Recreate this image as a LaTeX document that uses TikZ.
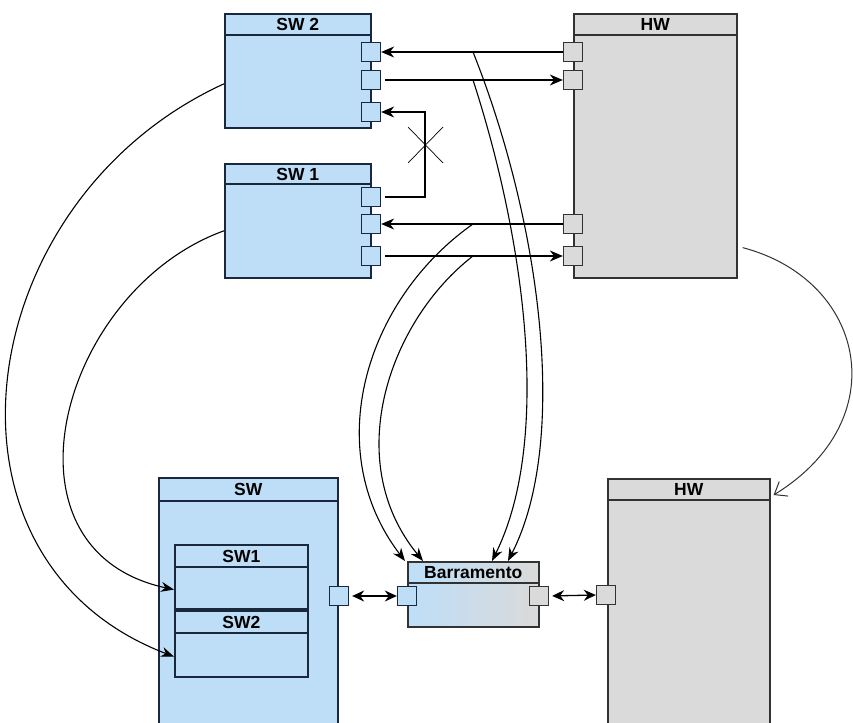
\documentclass[tikz,border=0pt]{standalone}
\usepackage{fontspec}
\setmainfont{Liberation Sans}
\usetikzlibrary{arrows.meta,calc}
\definecolor{lblue}{RGB}{190,222,248}
\definecolor{lgray}{RGB}{218,218,218}
\definecolor{bbdr}{RGB}{25,40,60}
\definecolor{gbdr}{RGB}{50,50,50}
\tikzset{
  cls/.style={draw, rectangle, inner sep=0pt, anchor=north west, line width=1.6pt},
  bluecls/.style={cls, draw=bbdr, fill=lblue},
  graycls/.style={cls, draw=gbdr, fill=lgray},
  hdrb/.style={draw=bbdr, line width=1.6pt},
  hdrg/.style={draw=gbdr, line width=1.6pt},
  ttl/.style={font=\bfseries\fontsize{17.5}{17.5}\selectfont, inner sep=0pt, text=black},
  bport/.style={draw=bbdr, fill=lblue, rectangle, minimum size=19pt, inner sep=0pt, line width=1.3pt},
  gport/.style={draw=gbdr, fill=lgray, rectangle, minimum size=19pt, inner sep=0pt, line width=1.3pt},
  arr/.style={line width=1.3pt, -{Stealth[length=13pt,width=11pt]}},
  darr/.style={line width=1.3pt, {Stealth[length=12pt,width=11pt]}-{Stealth[length=12pt,width=11pt]}},
  curv/.style={line width=1.1pt, -{Stealth[length=13pt,width=10pt]}},
  openarr/.style={line width=1pt, draw=gbdr, -{Straight Barb[length=11pt,width=17pt]}},
  xmark/.style={line width=0.7pt}
}
\begin{document}
\begin{tikzpicture}[x=1pt,y=-1pt]
\clip (0,0) rectangle (853,722);
\useasboundingbox (0,0) rectangle (853,722);
\fill[white] (0,0) rectangle (853,722);

% ---- top classes ----
\node[bluecls, minimum width=146pt, minimum height=114pt] (sw2) at (224,13) {};
\draw[hdrb] ($(sw2.north west)+(0,22)$) -- ($(sw2.north east)+(0,22)$);
\node[ttl] (sw2t) at ($(sw2.north)+(0,11.5)$) {SW 2};

\node[bluecls, minimum width=146pt, minimum height=114pt] (sw1) at (224,163) {};
\draw[hdrb] ($(sw1.north west)+(0,21)$) -- ($(sw1.north east)+(0,21)$);
\node[ttl] (sw1t) at ($(sw1.north)+(0,11)$) {SW 1};

\node[graycls, minimum width=163pt, minimum height=264pt] (hw) at (573,13) {};
\draw[hdrg] ($(hw.north west)+(0,22)$) -- ($(hw.north east)+(0,22)$);
\node[ttl] (hwt) at ($(hw.north)+(0,11.5)$) {HW};

% ---- bottom classes ----
\node[bluecls, minimum width=179pt, minimum height=260pt] (sw) at (158,477) {};
\draw[hdrb] ($(sw.north west)+(0,24)$) -- ($(sw.north east)+(0,24)$);
\node[ttl] (swt) at ($(sw.north)+(0,12.5)$) {SW};

\node[bluecls, minimum width=133pt, minimum height=64pt] (in1) at (174,544) {};
\draw[hdrb] ($(in1.north west)+(0,23)$) -- ($(in1.north east)+(0,23)$);
\node[ttl] (in1t) at ($(in1.north)+(0,12)$) {SW1};

\node[bluecls, minimum width=133pt, minimum height=66pt] (in2) at (174,610) {};
\draw[hdrb] ($(in2.north west)+(0,23)$) -- ($(in2.north east)+(0,23)$);
\node[ttl] (in2t) at ($(in2.north)+(0,12)$) {SW2};

\node[graycls, minimum width=162pt, minimum height=260pt] (hwb) at (607,478) {};
\draw[hdrg] ($(hwb.north west)+(0,22)$) -- ($(hwb.north east)+(0,22)$);
\node[ttl] (hwbt) at ($(hwb.north)+(0,11.5)$) {HW};

\node[cls, draw=gbdr, left color=lblue, right color=lgray, minimum width=131pt, minimum height=65pt] (barr) at (407,561) {};
\draw[hdrg] ($(barr.north west)+(0,22)$) -- ($(barr.north east)+(0,22)$);
\node[ttl] (barrt) at ($(barr.north)+(0,11.5)$) {Barramento};

% ---- ports ----
\node[bport] (s2a) at (371,52) {};
\node[bport] (s2b) at (371,80) {};
\node[bport] (s2c) at (371,112) {};
\node[bport] (s1a) at (371,197) {};
\node[bport] (s1b) at (371,224) {};
\node[bport] (s1c) at (371,256) {};
\node[gport] (h1) at (573,52) {};
\node[gport] (h2) at (573,80) {};
\node[gport] (h3) at (573,224) {};
\node[gport] (h4) at (573,256) {};
\node[bport] (swp) at (339,596) {};
\node[bport] (bl) at (407,596) {};
\node[gport] (br) at (539,596) {};
\node[gport] (hp) at (606,595) {};

% ---- straight connectors ----
\draw[arr] (h1.west) -- (s2a.east);
\draw[arr, shorten <=4pt] (s2b.east) -- (h2.west);
\coordinate (elb) at (425,112);
\draw[arr, shorten <=4pt] (s1a.east) -| (elb) -- (s2c.east);
\draw[xmark] (408,127) -- (443,163);
\draw[xmark] (443,127) -- (408,163);
\draw[arr] (h3.west) -- (s1b.east);
\draw[arr, shorten <=4pt] (s1c.east) -- (h4.west);

\draw[darr, shorten <=3pt] (swp.east) -- (bl.west);
\draw[darr, shorten <=3pt] (br.east) -- (hp.west);

% ---- junctions on connectors ----
\coordinate (ja) at (473,52);
\coordinate (jb) at (473,80);
\coordinate (jd) at (473,224);
\coordinate (je) at (473,256);
\coordinate (bA) at ($(barr.north west)+(101,0)$);
\coordinate (bB) at ($(barr.north west)+(85,0)$);
\coordinate (bC) at ($(barr.north west)+(-2,0)$);
\coordinate (bD) at ($(barr.north west)+(16,0)$);

\draw[curv] (ja) .. controls (540,220) and (570,440) .. (bA);
\draw[curv] (jb) .. controls (525,240) and (552,440) .. (bB);
\draw[curv] (jd) .. controls (365,300) and (320,450) .. (bC);
\draw[curv] (je) .. controls (390,320) and (340,460) .. (bD);

% ---- long curves ----
\coordinate (c1s) at ($(sw2.west)+(0,13)$);
\coordinate (c1e) at ($(in2.south west)+(0,-21)$);
\draw[curv] (c1s) .. controls (-30,200) and (-80,560) .. (c1e);
\coordinate (c2s) at ($(sw1.west)+(0,10)$);
\coordinate (c2e) at ($(in1.south west)+(0,-20)$);
\draw[curv] (c2s) .. controls (60,290) and (-10,550) .. (c2e);

\coordinate (c3s) at ($(hw.south east)+(5,-31)$);
\coordinate (c3e) at ($(hwb.north east)+(3,17)$);
\draw[openarr] (c3s) .. controls (866,280) and (896,420) .. (c3e);
\end{tikzpicture}
\end{document}
